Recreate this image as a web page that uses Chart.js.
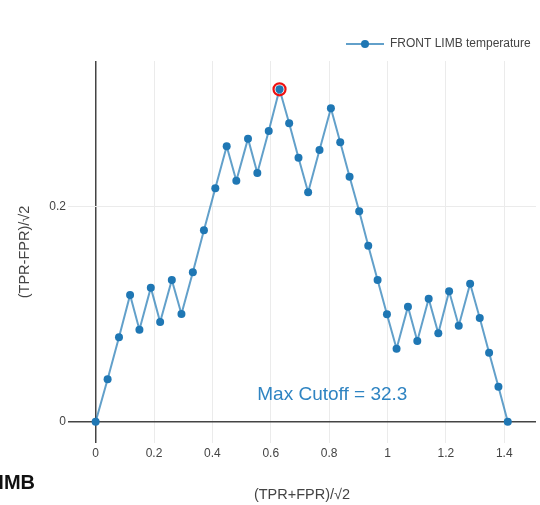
<!DOCTYPE html>
<html>
<head>
<meta charset="utf-8">
<script src="https://cdn.jsdelivr.net/npm/chart.js@4.4.1/dist/chart.umd.min.js"></script>
<style>
  html, body { margin: 0; padding: 0; background: #ffffff; }
  #wrap { width: 540px; height: 505px; position: relative; }
</style>
</head>
<body>
<div id="wrap"><canvas id="roc" width="540" height="505"></canvas></div>
<script>
// ROC-style curve rotated 45°: (TPR+FPR)/√2 against (TPR-FPR)/√2
const seriesName = 'FRONT LIMB temperature';
const titleText = 'FRONT LIMB';
const cutoffText = 'Max Cutoff = 32.3';

const xValues = [
  0, 0.041, 0.080, 0.118, 0.150, 0.189, 0.221, 0.261, 0.294, 0.333,
  0.371, 0.410, 0.449, 0.482, 0.522, 0.554, 0.593, 0.630, 0.663, 0.695,
  0.728, 0.767, 0.806, 0.838, 0.870, 0.903, 0.934, 0.966, 0.998, 1.031,
  1.070, 1.102, 1.141, 1.174, 1.211, 1.244, 1.283, 1.316, 1.348, 1.380,
  1.412
];
const yValues = [
  0, 0.0394, 0.0785, 0.1179, 0.0856, 0.1247, 0.0927, 0.1318, 0.1002, 0.1390,
  0.1780, 0.2171, 0.2562, 0.2242, 0.2633, 0.2313, 0.2704, 0.3092, 0.2776, 0.2456,
  0.2135, 0.2527, 0.2915, 0.2599, 0.2279, 0.1957, 0.1637, 0.1318, 0.0999, 0.0679,
  0.1070, 0.0751, 0.1144, 0.0822, 0.1213, 0.0893, 0.1284, 0.0965, 0.0642, 0.0326,
  0
];

const xTicks = [0, 0.2, 0.4, 0.6, 0.8, 1, 1.2, 1.4];
const xTickLabels = ['0', '0.2', '0.4', '0.6', '0.8', '1', '1.2', '1.4'];
const yTicks = [0, 0.2];
const yTickLabels = ['0', '0.2'];

const FONT = '"Liberation Sans", Arial, sans-serif';
const BLUE = '#1f77b4';
const TEXT = '#444444';

const points = xValues.map((x, i) => ({ x: x, y: yValues[i] }));

// Extra drawing: legend entry, peak ring, cutoff note and clipped title
const decorations = {
  id: 'decorations',
  afterDatasetsDraw(chart) {
    const ctx = chart.ctx;
    const xs = chart.scales.x, ys = chart.scales.y;
    ctx.save();

    // ring around the highest point
    let peak = 0;
    yValues.forEach((v, i) => { if (v > yValues[peak]) peak = i; });
    ctx.beginPath();
    ctx.arc(xs.getPixelForValue(xValues[peak]), ys.getPixelForValue(yValues[peak]), 6, 0, Math.PI * 2);
    ctx.strokeStyle = '#ee1111';
    ctx.lineWidth = 2.2;
    ctx.stroke();

    // cutoff annotation
    ctx.fillStyle = '#2f84c2';
    ctx.font = '19px ' + FONT;
    ctx.textAlign = 'center';
    ctx.textBaseline = 'middle';
    ctx.fillText(cutoffText, xs.getPixelForValue(0.811), ys.getPixelForValue(0.0248));
    ctx.restore();
  },
  afterDraw(chart) {
    const ctx = chart.ctx;
    ctx.save();
    // legend
    ctx.strokeStyle = 'rgba(31,119,180,0.7)';
    ctx.lineWidth = 2;
    ctx.beginPath();
    ctx.moveTo(346, 44);
    ctx.lineTo(384, 44);
    ctx.stroke();
    ctx.fillStyle = BLUE;
    ctx.beginPath();
    ctx.arc(365, 44, 4, 0, Math.PI * 2);
    ctx.fill();
    ctx.fillStyle = TEXT;
    ctx.font = '12px ' + FONT;
    ctx.textAlign = 'left';
    ctx.textBaseline = 'middle';
    ctx.fillText(seriesName, 390, 44);

    // chart title, partly outside the canvas
    ctx.fillStyle = '#111111';
    ctx.font = 'bold 20px ' + FONT;
    ctx.textAlign = 'right';
    ctx.fillText(titleText, 35, 483);
    ctx.restore();
  }
};

const gridColor = ctx => (ctx.tick && ctx.tick.value === 0) ? '#444444' : '#ebebeb';
const gridWidth = ctx => (ctx.tick && ctx.tick.value === 0) ? 1.5 : 1;

new Chart(document.getElementById('roc'), {
  type: 'line',
  data: {
    datasets: [{
      label: seriesName,
      data: points,
      borderColor: 'rgba(31,119,180,0.7)',
      borderWidth: 2,
      pointRadius: 4,
      pointBorderWidth: 0,
      pointBackgroundColor: BLUE,
      pointHoverRadius: 4,
      tension: 0,
      fill: false
    }]
  },
  options: {
    responsive: false,
    animation: false,
    devicePixelRatio: 1,
    layout: { padding: { top: 61, right: 3, bottom: 0, left: 0 } },
    plugins: {
      legend: { display: false },
      tooltip: { enabled: false },
      title: { display: false }
    },
    scales: {
      x: {
        type: 'linear',
        min: -0.0947,
        max: 1.5087,
        afterFit(scale) { scale.height = 62; },
        afterBuildTicks(scale) { scale.ticks = xTicks.map(v => ({ value: v })); },
        border: { display: false },
        grid: { color: gridColor, lineWidth: gridWidth, drawTicks: false },
        ticks: {
          padding: 3,
          color: TEXT,
          font: { family: FONT, size: 12 },
          maxRotation: 0,
          autoSkip: false,
          callback: (v, i) => xTickLabels[i]
        },
        title: {
          display: true,
          text: '(TPR+FPR)/√2',
          color: TEXT,
          font: { family: FONT, size: 14.5 },
          padding: { top: 0, bottom: 1.3 }
        }
      },
      y: {
        type: 'linear',
        min: -0.0198,
        max: 0.3355,
        afterFit(scale) { scale.width = 68; },
        afterBuildTicks(scale) { scale.ticks = yTicks.map(v => ({ value: v })); },
        border: { display: false },
        grid: { color: gridColor, lineWidth: gridWidth, drawTicks: false },
        ticks: {
          padding: 2,
          color: TEXT,
          font: { family: FONT, size: 12 },
          autoSkip: false,
          callback: (v, i) => yTickLabels[i]
        },
        title: {
          display: true,
          text: '(TPR-FPR)/√2',
          color: TEXT,
          font: { family: FONT, size: 14.5 },
          padding: { top: 16.5, bottom: 0 }
        }
      }
    }
  },
  plugins: [decorations]
});
</script>
</body>
</html>
